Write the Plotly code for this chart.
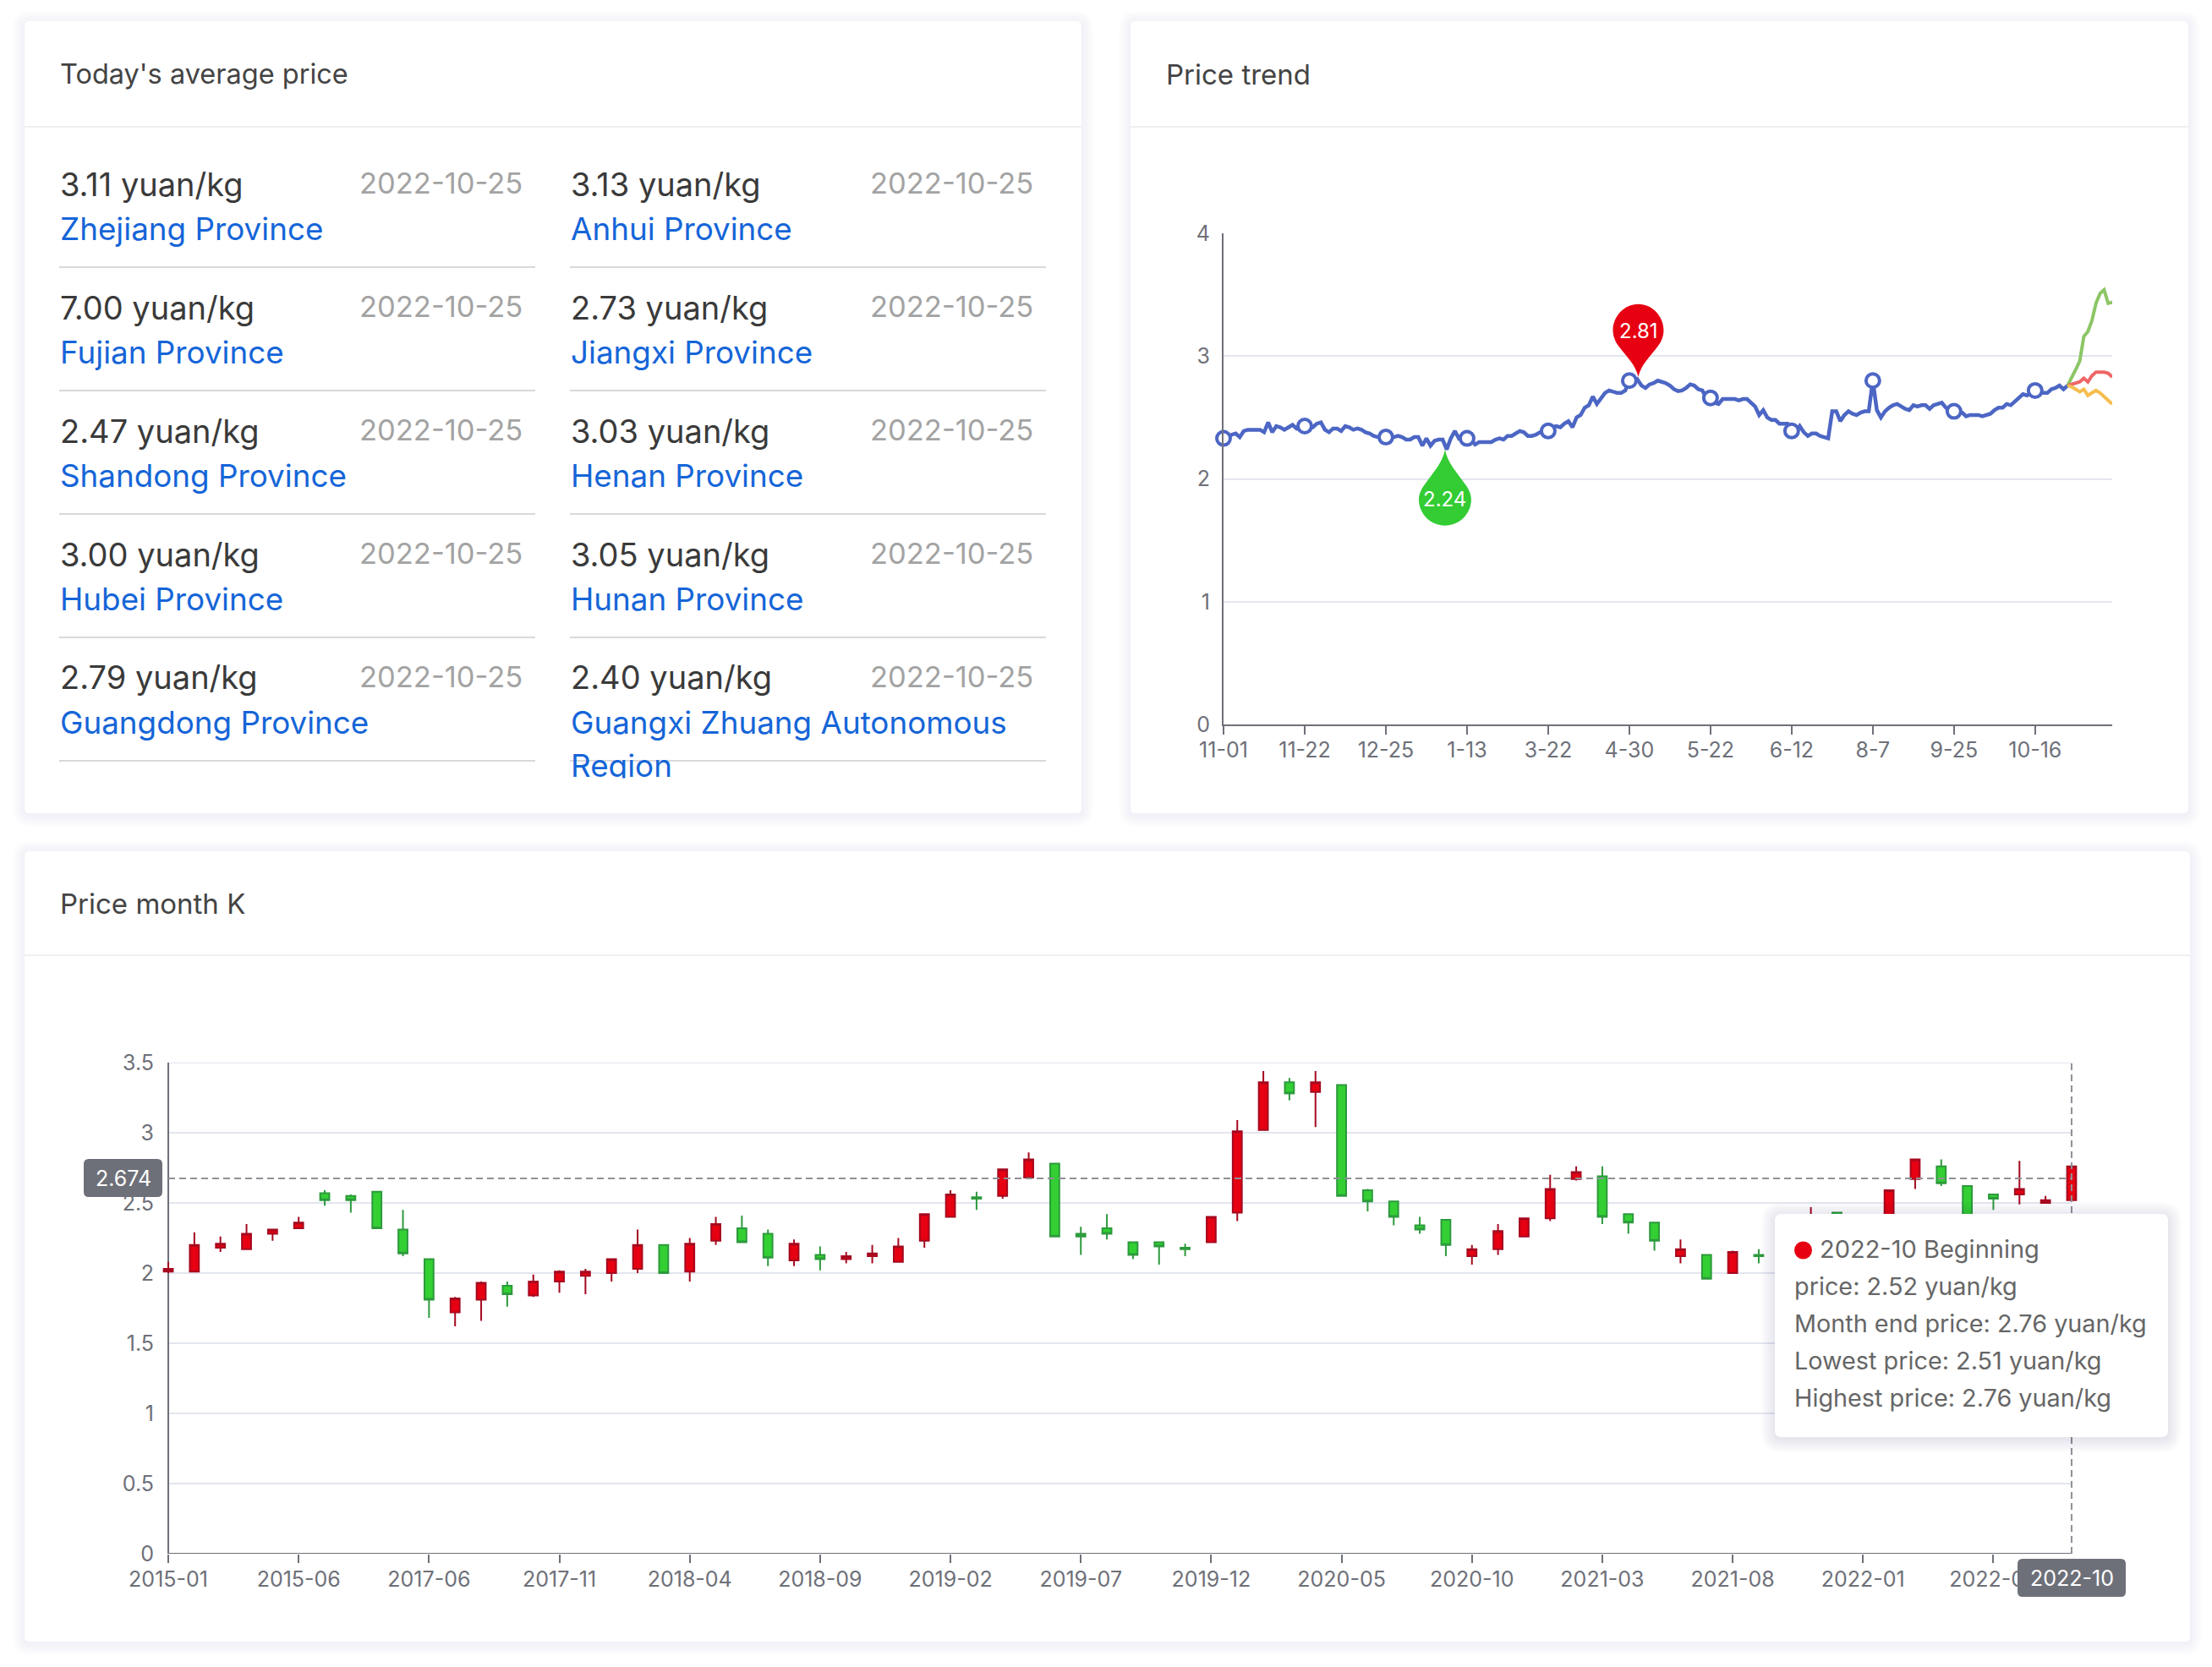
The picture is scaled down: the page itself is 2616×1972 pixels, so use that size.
import plotly.graph_objects as go

W = 2616
H = 1972
FONT = "Inter"

# today's average price table
prices = ["3.11 yuan/kg", "3.13 yuan/kg", "7.00 yuan/kg", "2.73 yuan/kg", "2.47 yuan/kg",
          "3.03 yuan/kg", "3.00 yuan/kg", "3.05 yuan/kg", "2.79 yuan/kg", "2.40 yuan/kg"]
provinces = ["Zhejiang Province", "Anhui Province", "Fujian Province", "Jiangxi Province",
             "Shandong Province", "Henan Province", "Hubei Province", "Hunan Province",
             "Guangdong Province", "Guangxi Zhuang Autonomous"]
price_date = "2022-10-25"

# price trend
trend_ticks = [0, 20, 40, 60, 80, 100, 120, 140, 160, 180, 200]
trend_labels = ["11-01", "11-22", "12-25", "1-13", "3-22", "4-30", "5-22", "6-12", "8-7", "9-25", "10-16"]
trend = [2.33, 2.34, 2.36, 2.37, 2.34, 2.39, 2.40, 2.40, 2.40, 2.40, 2.38, 2.46, 2.38, 2.43, 2.42,
         2.40, 2.42, 2.44, 2.41, 2.43, 2.43, 2.42, 2.42, 2.45, 2.46, 2.40, 2.38, 2.41, 2.41, 2.39,
         2.43, 2.42, 2.40, 2.41, 2.40, 2.38, 2.37, 2.35, 2.34, 2.34, 2.34, 2.34, 2.34, 2.35, 2.34,
         2.32, 2.32, 2.34, 2.34, 2.27, 2.33, 2.27, 2.31, 2.32, 2.32, 2.24, 2.33, 2.39, 2.33, 2.35,
         2.33, 2.32, 2.28, 2.30, 2.30, 2.30, 2.30, 2.32, 2.33, 2.32, 2.35, 2.35, 2.37, 2.39, 2.38,
         2.35, 2.35, 2.36, 2.38, 2.39, 2.39, 2.42, 2.43, 2.42, 2.45, 2.47, 2.42, 2.50, 2.52, 2.58,
         2.60, 2.67, 2.61, 2.66, 2.70, 2.72, 2.71, 2.70, 2.70, 2.72, 2.80, 2.78, 2.81, 2.76, 2.74,
         2.77, 2.78, 2.80, 2.79, 2.78, 2.76, 2.73, 2.715, 2.72, 2.74, 2.77, 2.76, 2.73, 2.72, 2.66,
         2.66, 2.62, 2.61, 2.65, 2.65, 2.65, 2.65, 2.64, 2.65, 2.65, 2.62, 2.59, 2.52, 2.56, 2.50,
         2.48, 2.48, 2.45, 2.45, 2.45, 2.39, 2.38, 2.43, 2.38, 2.35, 2.37, 2.37, 2.35, 2.34, 2.33,
         2.55, 2.55, 2.47, 2.52, 2.55, 2.53, 2.52, 2.54, 2.55, 2.55, 2.80, 2.56, 2.50, 2.55, 2.58,
         2.60, 2.61, 2.59, 2.57, 2.56, 2.60, 2.59, 2.60, 2.60, 2.57, 2.60, 2.61, 2.62, 2.58, 2.55,
         2.55, 2.55, 2.54, 2.51, 2.52, 2.52, 2.52, 2.51, 2.52, 2.53, 2.56, 2.58, 2.58, 2.61, 2.60,
         2.63, 2.67, 2.69, 2.68, 2.70, 2.72, 2.71, 2.70, 2.70, 2.73, 2.74, 2.76, 2.73, 2.76]
forecast_x = [208, 209, 210, 211, 212, 213, 214, 215, 216, 217, 218, 219]
forecast_high = [2.76, 2.82, 2.89, 2.96, 3.16, 3.20, 3.29, 3.43, 3.51, 3.54, 3.43, 3.44]
forecast_mid = [2.76, 2.77, 2.78, 2.79, 2.82, 2.79, 2.84, 2.87, 2.87, 2.87, 2.86, 2.83]
forecast_low = [2.76, 2.75, 2.73, 2.71, 2.73, 2.68, 2.70, 2.72, 2.70, 2.67, 2.64, 2.61]
trend_max_x = 102
trend_min_x = 55

# price month K
k_ticks = [0, 5, 10, 15, 20, 25, 30, 35, 40, 45, 50, 55, 60, 65, 70]
k_labels = ["2015-01", "2015-06", "2017-06", "2017-11", "2018-04", "2018-09", "2019-02", "2019-07",
            "2019-12", "2020-05", "2020-10", "2021-03", "2021-08", "2022-01", "2022-06"]
k_open = [2.01, 2.01, 2.18, 2.17, 2.28, 2.32, 2.57, 2.55, 2.58, 2.31, 2.10, 1.72, 1.81, 1.91, 1.84,
          1.94, 1.98, 2.00, 2.03, 2.20, 2.01, 2.23, 2.32, 2.28, 2.09, 2.13, 2.10, 2.12, 2.08, 2.23,
          2.40, 2.54, 2.55, 2.68, 2.78, 2.28, 2.32, 2.22, 2.22, 2.18, 2.22, 2.43, 3.02, 3.36, 3.29,
          3.34, 2.59, 2.51, 2.34, 2.38, 2.12, 2.17, 2.26, 2.39, 2.67, 2.69, 2.42, 2.36, 2.12, 2.13,
          2.00, 2.13, 2.13, 2.22, 2.43, 2.31, 2.25, 2.67, 2.76, 2.62, 2.56, 2.56, 2.50, 2.52]
k_close = [2.03, 2.20, 2.21, 2.28, 2.31, 2.36, 2.52, 2.52, 2.32, 2.14, 1.81, 1.82, 1.93, 1.85, 1.94,
           2.01, 2.01, 2.10, 2.20, 2.00, 2.21, 2.35, 2.22, 2.11, 2.21, 2.10, 2.12, 2.14, 2.19, 2.42,
           2.56, 2.53, 2.74, 2.81, 2.26, 2.26, 2.28, 2.13, 2.19, 2.17, 2.40, 3.01, 3.36, 3.28, 3.36,
           2.55, 2.51, 2.40, 2.31, 2.20, 2.17, 2.30, 2.39, 2.60, 2.72, 2.40, 2.36, 2.23, 2.17, 1.96,
           2.15, 2.12, 2.20, 2.30, 2.31, 2.25, 2.59, 2.81, 2.64, 2.40, 2.53, 2.60, 2.52, 2.76]
k_low = [2.00, 2.01, 2.15, 2.17, 2.23, 2.32, 2.48, 2.43, 2.32, 2.12, 1.68, 1.62, 1.66, 1.76, 1.83,
         1.86, 1.85, 1.94, 2.00, 2.00, 1.94, 2.20, 2.22, 2.05, 2.05, 2.02, 2.07, 2.07, 2.08, 2.18,
         2.40, 2.45, 2.53, 2.68, 2.26, 2.13, 2.24, 2.10, 2.06, 2.12, 2.22, 2.37, 3.02, 3.23, 3.04,
         2.55, 2.44, 2.34, 2.28, 2.12, 2.06, 2.13, 2.26, 2.37, 2.66, 2.35, 2.28, 2.16, 2.07, 1.96,
         2.00, 2.07, 2.10, 2.18, 2.28, 2.20, 2.25, 2.60, 2.62, 2.40, 2.45, 2.49, 2.50, 2.51]
k_high = [2.08, 2.29, 2.26, 2.35, 2.31, 2.40, 2.59, 2.56, 2.58, 2.45, 2.10, 1.83, 1.94, 1.94, 1.99,
          2.02, 2.03, 2.10, 2.31, 2.20, 2.25, 2.40, 2.41, 2.31, 2.24, 2.19, 2.15, 2.20, 2.25, 2.42,
          2.59, 2.58, 2.74, 2.86, 2.78, 2.33, 2.42, 2.22, 2.22, 2.21, 2.40, 3.09, 3.44, 3.39, 3.44,
          3.34, 2.60, 2.51, 2.40, 2.38, 2.20, 2.35, 2.39, 2.70, 2.76, 2.76, 2.42, 2.36, 2.24, 2.13,
          2.16, 2.17, 2.24, 2.47, 2.43, 2.33, 2.59, 2.81, 2.81, 2.62, 2.56, 2.80, 2.55, 2.76]
cross_y = 2.674
cross_x = 73

tooltip_lines = ["price: 2.52 yuan/kg", "Month end price: 2.76 yuan/kg",
                 "Lowest price: 2.51 yuan/kg", "Highest price: 2.76 yuan/kg"]


def px(x):
    return x / W


def py(y):
    return 1 - y / H


def rounded(x0, y0, x1, y1, r):
    a, b, c, d = px(x0), py(y0), px(x1), py(y1)
    rx, ry = r / W, r / H
    return (f"M {a+rx},{b} L {c-rx},{b} Q {c},{b} {c},{b-ry} L {c},{d+ry} Q {c},{d} {c-rx},{d} "
            f"L {a+rx},{d} Q {a},{d} {a},{d+ry} L {a},{b-ry} Q {a},{b} {a+rx},{b} Z")


shapes = []
annotations = []


def box(x0, y0, x1, y1, r, fill, layer="below"):
    shapes.append(dict(type="path", xref="paper", yref="paper", path=rounded(x0, y0, x1, y1, r),
                       fillcolor=fill, line_width=0, layer=layer))


def card(x0, y0, x1, y1, r, layer="below", spread=14, alpha=0.006):
    for s in range(spread, 0, -2):
        box(x0 - s, y0 - s + 2, x1 + s, y1 + s + 2, r + s, f"rgba(30,40,70,{alpha})", layer)
    box(x0, y0, x1, y1, r, "white", layer)


def rule(x0, x1, y, color):
    shapes.append(dict(type="line", xref="paper", yref="paper", x0=px(x0), x1=px(x1), y0=py(y), y1=py(y),
                       line=dict(color=color, width=2), layer="below"))


def text(x, y, s, size, color, anchor="left"):
    annotations.append(dict(x=px(x), y=py(y), xref="paper", yref="paper", text=s, showarrow=False,
                            xanchor=anchor, yanchor="middle", borderpad=0,
                            font=dict(family=FONT, size=size, color=color)))


card(29, 25, 1279, 962, 6)
card(1337, 25, 2588, 962, 6)
card(29, 1007, 2590, 1942, 6)
rule(29, 1279, 150, "#f0f0f2")
rule(1337, 2588, 150, "#f0f0f2")
rule(29, 2590, 1130, "#f0f0f2")

text(70, 88, "Today's average price", 32.5, "#444444")
text(1378, 88, "Price trend", 33, "#444444")
text(70, 1069, "Price month K", 33, "#444444")

for i in range(10):
    row = i // 2
    left = 70 if i % 2 == 0 else 674
    rule(left, left + 563, 316 + 146 * row, "#d9d9dc")
    text(left, 217.5 + 146 * row, prices[i], 38, "#3a3a3a")
    text(left + 549, 216.5 + 146 * row, price_date, 34.5, "#a3a3a3", "right")
    text(left, 270.5 + 146 * row, provinces[i], 36.8, "#1565d8")
text(674, 905.5, "Region", 36.8, "#1565d8")
# the list box clips the last line
annotations.append(dict(x=px(674), y=py(920), xref="paper", yref="paper", text=" ", showarrow=False,
                        xanchor="left", yanchor="top", width=160, height=24, bgcolor="white"))

GRID = "#e3e6ee"
AXIS = "#6e7079"
fig = go.Figure()

# trend chart
fig.add_trace(go.Scatter(x=list(range(len(trend))), y=trend, mode="lines", cliponaxis=False,
                         line=dict(color="#4c66c4", width=4.5), xaxis="x", yaxis="y"))
for values, color in [(forecast_high, "#8cc665"), (forecast_mid, "#ee6666"), (forecast_low, "#f6bd4e")]:
    fig.add_trace(go.Scatter(x=forecast_x, y=values, mode="lines", cliponaxis=False,
                             line=dict(color=color, width=4), xaxis="x", yaxis="y"))
fig.add_trace(go.Scatter(x=trend_ticks, y=[trend[i] for i in trend_ticks], mode="markers", cliponaxis=False,
                         marker=dict(size=16, color="white", line=dict(color="#4c66c4", width=4)),
                         xaxis="x", yaxis="y"))

# month K chart, axis lines and grid are shapes because the candles stick out of the plot area
fig.add_trace(go.Candlestick(x=list(range(len(k_open))), open=k_open, close=k_close, low=k_low, high=k_high,
                             whiskerwidth=0, xaxis="x2", yaxis="y2",
                             increasing=dict(fillcolor="#e60012", line=dict(color="#a5091f", width=2)),
                             decreasing=dict(fillcolor="#33cf33", line=dict(color="#2d9a3d", width=2))))
for v in [0.5, 1, 1.5, 2, 2.5, 3, 3.5]:
    shapes.append(dict(type="line", xref="x2", yref="y2", x0=0, x1=cross_x, y0=v, y1=v,
                       line=dict(color=GRID, width=2), layer="below"))
shapes.append(dict(type="line", xref="x2", yref="y2", x0=0, x1=0, y0=0, y1=3.5,
                   line=dict(color=AXIS, width=2), layer="below"))
shapes.append(dict(type="line", xref="x2", yref="y2", x0=0, x1=cross_x, y0=0, y1=0,
                   line=dict(color=AXIS, width=2), layer="below"))

# pins on the trend line, path is in pixels from the data point
pin_up = ("M 1,3 C -2,17 -13,27 -22,39 C -26,44 -29,51 -29,58 C -29,74.6 -15.6,89 1,89 "
          "C 17.6,89 31,74.6 31,58 C 31,51 28,44 24,39 C 15,27 4,17 1,3 Z")
pin_down = ("M -2,0 C -5,-16 -16,-27 -25,-40 C -29,-45 -33,-52 -33,-59 C -33,-76 -19,-90 -2,-90 "
            "C 15,-90 29,-76 29,-59 C 29,-52 25,-45 21,-40 C 12,-27 1,-16 -2,0 Z")
for path, kx, color in [(pin_up, trend_max_x, "#e60012"), (pin_down, trend_min_x, "#33cc33")]:
    shapes.append(dict(type="path", xref="x", yref="y", xsizemode="pixel", ysizemode="pixel",
                       xanchor=kx, yanchor=trend[kx], path=path, fillcolor=color, line_width=0, layer="above"))
annotations.append(dict(x=trend_max_x, y=trend[trend_max_x], xref="x", yref="y", text=f"{trend[trend_max_x]:.2f}",
                        showarrow=False, xshift=1, yshift=57, font=dict(family=FONT, size=24, color="white")))
annotations.append(dict(x=trend_min_x, y=trend[trend_min_x], xref="x", yref="y", text=f"{trend[trend_min_x]:.2f}",
                        showarrow=False, xshift=-2, yshift=-59, font=dict(family=FONT, size=24, color="white")))

# crosshair
shapes.append(dict(type="line", xref="x2", yref="y2", x0=0, x1=cross_x, y0=cross_y, y1=cross_y,
                   line=dict(color="#8f9197", width=2, dash="8px,5px"), layer="above"))
shapes.append(dict(type="line", xref="x2", yref="y2", x0=cross_x, x1=cross_x, y0=0, y1=3.5,
                   line=dict(color="#8f9197", width=2, dash="8px,5px"), layer="above"))
box(99, 1371, 192, 1416, 6, AXIS, "above")
text(145.5, 1393.5, f"{cross_y}", 25, "white", "center")
box(2386, 1844, 2514, 1889, 6, AXIS, "above")
text(2450, 1866.5, "2022-10", 25, "white", "center")

# tooltip
card(2099, 1436, 2564, 1700, 8, "above", 16, 0.012)
shapes.append(dict(type="circle", xref="paper", yref="paper", x0=px(2122), x1=px(2143), y0=py(1489.5), y1=py(1468.5),
                   fillcolor="#e60012", line_width=0, layer="above"))
text(2150.5, 1477.5, "2022-10 Beginning", 29, "#666666")
for i, line in enumerate(tooltip_lines):
    text(2120.5, 1521.5 + 44 * i, line, 28.8, "#666666")

tick_font = dict(family=FONT, size=25, color=AXIS)
fig.update_layout(
    width=W, height=H, margin=dict(l=0, r=0, t=0, b=0, pad=0), autosize=False,
    paper_bgcolor="white", plot_bgcolor="rgba(0,0,0,0)", showlegend=False, hovermode=False,
    shapes=shapes, annotations=annotations, boxgap=0.5,
    xaxis=dict(domain=[px(1447), px(2498)], range=[0, 219], tickmode="array", tickvals=trend_ticks,
               ticktext=trend_labels, ticks="outside", ticklen=10, tickwidth=2, tickcolor=AXIS,
               showline=True, linecolor=AXIS, linewidth=2, showgrid=False, zeroline=False,
               ticklabelstandoff=-3, tickfont=tick_font, anchor="y", automargin=False),
    yaxis=dict(domain=[py(857), py(276)], range=[0, 4], tickmode="array", tickvals=[0, 1, 2, 3, 4],
               showline=True, linecolor=AXIS, linewidth=2, gridcolor=GRID, gridwidth=2, zeroline=False,
               ticks="", ticklabelstandoff=9, tickfont=tick_font, anchor="x", automargin=False),
    xaxis2=dict(domain=[px(183), px(2470)], range=[-0.52, 73.65], tickmode="array", tickvals=k_ticks,
                ticktext=k_labels, ticks="outside", ticklen=10, tickwidth=2, tickcolor=AXIS,
                showline=False, showgrid=False, zeroline=False, rangeslider=dict(visible=False),
                ticklabelstandoff=-2, tickfont=tick_font, anchor="y2", automargin=False),
    yaxis2=dict(domain=[py(1838), py(1257)], range=[0, 3.5], tickmode="array",
                tickvals=[0, 0.5, 1, 1.5, 2, 2.5, 3, 3.5], ticktext=["0", "0.5", "1", "1.5", "2", "2.5", "3", "3.5"],
                showline=False, showgrid=False, zeroline=False, ticks="", ticklabelstandoff=0,
                tickfont=tick_font, anchor="x2", automargin=False),
)

fig.write_html("out.html", config=dict(displayModeBar=False), post_script="document.body.style.margin='0'")
